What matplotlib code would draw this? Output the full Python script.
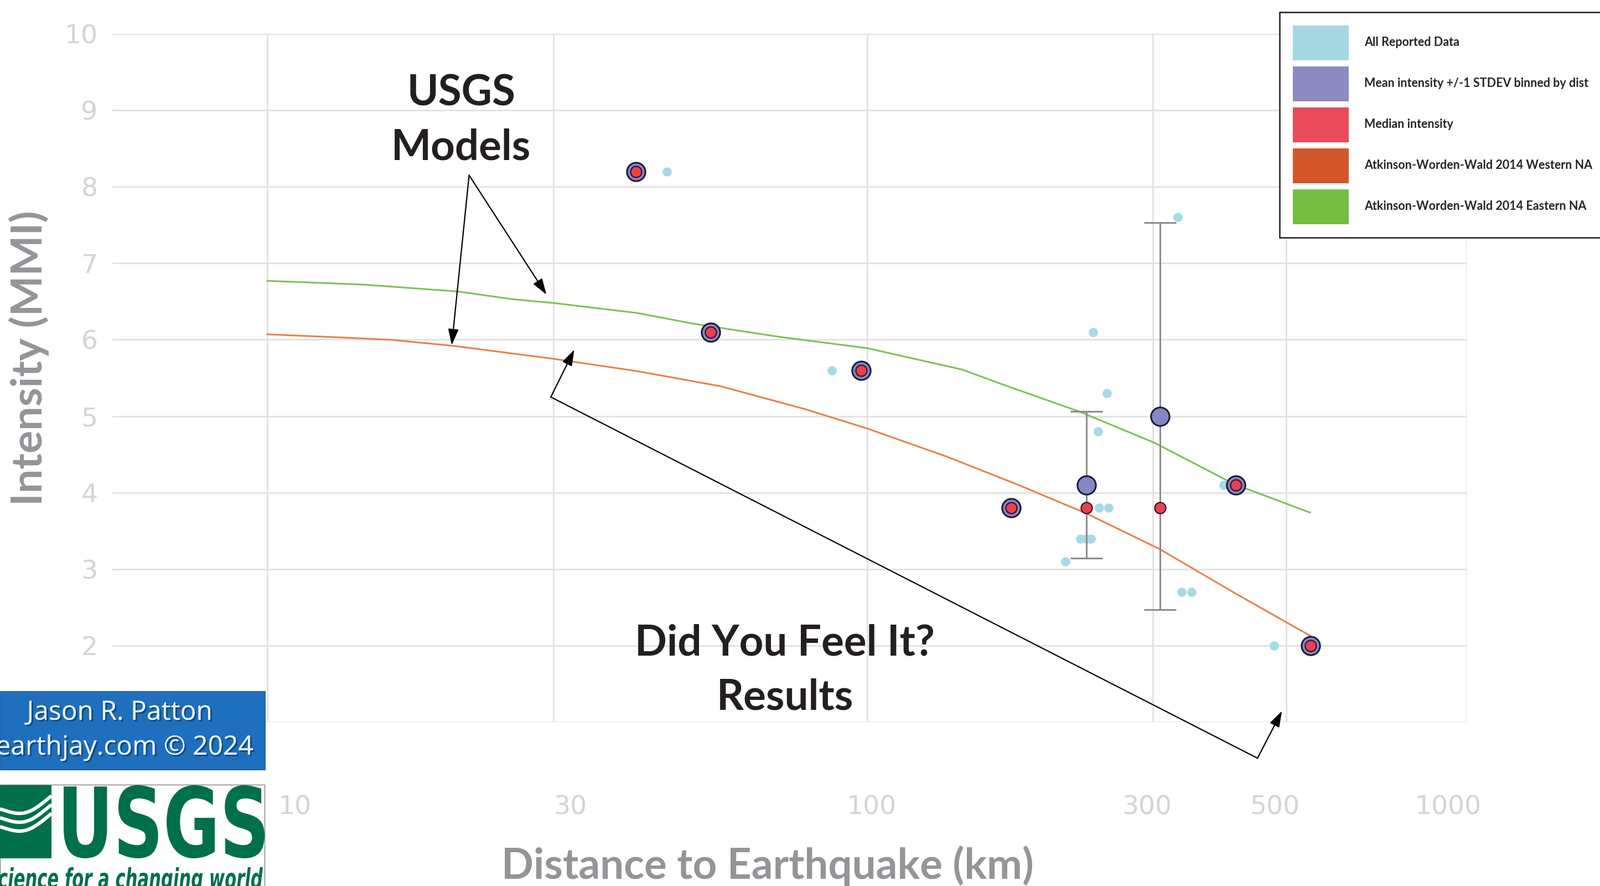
import numpy as np
import matplotlib
matplotlib.use('Agg')
import matplotlib.pyplot as plt
from matplotlib.patches import Rectangle, Patch, PathPatch
from matplotlib.textpath import TextPath
from matplotlib.font_manager import FontProperties
from matplotlib.transforms import Affine2D, blended_transform_factory
from matplotlib.ticker import NullLocator
import matplotlib.patheffects as pe

# ---------------- data ----------------
xtick_vals = [10, 30, 100, 300, 500, 1000]
xtick_labels = ['10', '30', '100', '300', '500', '1000']
ytick_vals = [1, 2, 3, 4, 5, 6, 7, 8, 9, 10]
ytick_labels = ['', '2', '3', '4', '5', '6', '7', '8', '9', '10']

# Atkinson-Worden-Wald 2014 model curves
eastern_dist = [10, 14.5, 20.8, 25.6, 30, 41.3, 51.3, 71, 100, 144, 169, 226, 302, 410, 548]
eastern_mmi = [6.77, 6.72, 6.63, 6.53, 6.48, 6.35, 6.21, 6.04, 5.89, 5.61, 5.41, 5.06, 4.65, 4.11, 3.74]
western_dist = [10, 13.2, 16, 20.4, 30, 41.3, 57.1, 79, 100, 136, 179, 203, 232, 308, 412, 548]
western_mmi = [6.07, 6.03, 6.00, 5.92, 5.75, 5.59, 5.39, 5.09, 4.84, 4.47, 4.10, 3.92, 3.73, 3.26, 2.68, 2.13]

# All reported DYFI data
all_dist = [41.2, 46.4, 54.8, 87.3, 97.8, 174, 214, 227, 232, 236, 238, 243, 244,
            251, 253, 308, 330, 335, 348, 393, 412, 477, 549]
all_mmi = [8.2, 8.2, 6.1, 5.6, 5.6, 3.8, 3.1, 3.4, 3.4, 3.4, 6.1, 4.8, 3.8,
           5.3, 3.8, 3.8, 7.6, 2.7, 2.7, 4.1, 4.1, 2.0, 2.0]

# Binned statistics
bin_dist = [41.2, 54.8, 97.8, 174, 232, 308, 412, 549]
bin_mean = [8.2, 6.1, 5.6, 3.8, 4.1, 5.0, 4.1, 2.0]
bin_std = [0.0, 0.0, 0.0, 0.0, 0.96, 2.53, 0.0, 0.0]
bin_median = [8.2, 6.1, 5.6, 3.8, 3.8, 3.8, 4.1, 2.0]

legend_labels = ['All Reported Data',
                 'Mean intensity +/-1 STDEV binned by dist',
                 'Median intensity',
                 'Atkinson-Worden-Wald 2014 Western NA',
                 'Atkinson-Worden-Wald 2014 Eastern NA']
legend_colors = ['#a5d8e3', '#8b8bc1', '#e84c58', '#d2572a', '#76bd43']

# ---------------- figure ----------------
W, H, DPI = 2891, 1600, 100
fig = plt.figure(figsize=(W / DPI, H / DPI), dpi=DPI)
fig.patch.set_facecolor('white')


def fx(px):
    return px / W


def fy(py):
    return 1 - py / H


ax = fig.add_axes([fx(203), fy(1304), fx(2650) - fx(203), fy(61) - fy(1304)])
ax.set_xscale('log')
ax.set_xlim(10 ** 0.7415, 1000)
ax.set_ylim(1, 10)
for s in ax.spines.values():
    s.set_visible(False)
ax.set_xticks(xtick_vals)
ax.set_xticklabels([])
ax.xaxis.set_minor_locator(NullLocator())
ax.set_yticks(ytick_vals)
ax.set_yticklabels(ytick_labels)
ax.tick_params(length=0)
ax.tick_params(axis='y', labelsize=34, labelcolor='#d4d4d4', pad=19)
for t in ax.get_yticklabels():
    t.set_family('DejaVu Sans')
ax.grid(True, color='#e3e3e3', lw=2.2)
ax.set_axisbelow(True)

# model curves
ax.plot(eastern_dist, eastern_mmi, color='#7cc255', lw=2.2, zorder=3)
ax.plot(western_dist, western_mmi, color='#e8804a', lw=2.2, zorder=3)

# all data
ax.plot(all_dist, all_mmi, 'o', ms=12, color='#a6dae6', mec='none', zorder=4)

# error bars (only where std > 0)
bd = np.array(bin_dist)
bm = np.array(bin_mean)
bs = np.array(bin_std)
msk = bs > 0
ax.errorbar(bd[msk], bm[msk], yerr=bs[msk], fmt='none', ecolor='#8c8c8c',
            elinewidth=2.2, capsize=21, capthick=2.2, zorder=5)
ax.plot(bin_dist, bin_mean, 'o', ms=24, mfc='#8587c4', mec='#1b1b3a', mew=2.2, zorder=6)
ax.plot(bin_dist, bin_median, 'o', ms=14.5, mfc='#e8414f', mec='#3a1020', mew=1.6, zorder=7)

# annotations
ann_font = dict(family='Lato', fontweight='bold', fontsize=55, color='#231f20')
ax.text(21.05, 9.225, 'USGS', ha='center', va='center', **ann_font)
ax.text(21.05, 8.515, 'Models', ha='center', va='center', **ann_font)
ax.text(73, 2.035, 'Did You Feel It?', ha='center', va='center', **ann_font)
ax.text(73, 1.325, 'Results', ha='center', va='center', **ann_font)

arw = dict(arrowstyle='-|>,head_length=0.55,head_width=0.18', color='black', lw=1.6,
           mutation_scale=32, shrinkA=0, shrinkB=0)
ax.annotate('', xy=(20.3, 5.93), xytext=(21.7, 8.15), arrowprops=arw,
            annotation_clip=False)
ax.annotate('', xy=(29.2, 6.59), xytext=(21.7, 8.15), arrowprops=arw,
            annotation_clip=False)
ax.plot([29.7, 448], [5.25, 0.528], color='black', lw=1.6, clip_on=False, zorder=8)
ax.annotate('', xy=(32.5, 5.87), xytext=(29.7, 5.25), arrowprops=arw,
            annotation_clip=False)
ax.annotate('', xy=(492, 1.145), xytext=(448, 0.528), arrowprops=arw,
            annotation_clip=False)

# legend
handles = [Patch(facecolor=c, edgecolor='none') for c in legend_colors]
leg = ax.legend(handles, legend_labels, loc='upper left',
                bbox_to_anchor=(fx(2312), fy(22)), bbox_transform=fig.transFigure,
                borderaxespad=0, frameon=True, fancybox=False, framealpha=1,
                edgecolor='#1a1a1a',
                prop=FontProperties(family='Lato', weight='bold', size=15.5),
                handlelength=4.7, handleheight=4.13, labelspacing=0.51,
                handletextpad=1.29, borderpad=1.1)
leg.get_frame().set_linewidth(1.8)
for t in leg.get_texts():
    t.set_color('#262626')

# x tick labels (slightly offset label scale, as in the reference)
ax_lab = fig.add_axes([fx(533), fy(1456), fx(2617) - fx(533), 0.001])
ax_lab.set_xscale('log')
ax_lab.set_xlim(10, 1000)
ax_lab.axis('off')
tr = blended_transform_factory(ax_lab.transData, fig.transFigure)
for v, lab in zip(xtick_vals, xtick_labels):
    ax_lab.text(v, fy(1458), lab, transform=tr, ha='center', va='center',
                fontsize=34, color='#d4d4d4', family='DejaVu Sans')

# axis titles
fig.text(fx(52), fy(647), 'Intensity (MMI)', rotation=90, ha='center', va='center',
         fontsize=55.5, fontweight='bold', family='Lato', color='#939598')
fig.text(fx(1387), fy(1563), 'Distance to Earthquake (km)', ha='center', va='center',
         fontsize=55, fontweight='bold', family='Lato', color='#939598')

# ---------------- overlay (credit + logo) ----------------
ov = fig.add_axes([0, 0, 1, 1])
ov.set_xlim(0, W)
ov.set_ylim(H, 0)
ov.axis('off')
ov.patch.set_alpha(0)

ov.add_patch(Rectangle((0, 1249), 479, 141, fc='#1e6fbd', ec='#2f5fa8', lw=1.5))
shadow = [pe.withSimplePatchShadow(offset=(2, -2), shadow_rgbFace='#0b2a4a', alpha=0.6),
          pe.Normal()]
ov.text(216, 1287, 'Jason R. Patton', ha='center', va='center', fontsize=34.5,
        family='Open Sans', color='#e6f2fb', path_effects=shadow)
ov.text(457, 1350, 'earthjay.com \u00a9 2024', ha='right', va='center', fontsize=34.5,
        family='Open Sans', color='#e6f2fb', path_effects=shadow)

green = '#00704a'
ov.add_patch(Rectangle((0, 1417), 478, 190, fc='white', ec='#7f7f7f', lw=1.0))
# wave block
ov.add_patch(Rectangle((0, 1418), 93, 132, fc=green, ec='none'))
wx = np.linspace(0, 93, 60)
for off in [0, 16, 32]:
    wy = 1465 + off + 14 * np.sin((wx / 93) * np.pi * 1.2 - 0.3) - wx * 0.25
    ov.plot(wx, wy, color='white', lw=4.5, solid_capstyle='butt')

# "USGS" word
fp = FontProperties(family='DejaVu Sans', weight='bold')
tp = TextPath((0, 0), 'USGS', size=100, prop=fp)
bb = tp.get_extents()
trf = Affine2D().translate(-bb.x0, -bb.y0).scale(363 / bb.width, -132 / bb.height).translate(115, 1550)
ov.add_patch(PathPatch(trf.transform_path(tp), fc=green, ec='none'))

# tagline
fp2 = FontProperties(family='DejaVu Sans', weight='bold', style='italic')
tp2 = TextPath((0, 0), 'science for a changing world', size=100, prop=fp2)
bb2 = tp2.get_extents()
trf2 = Affine2D().translate(-bb2.x0, 0).scale(497 / bb2.width, -0.5).translate(-22, 1604)
ov.add_patch(PathPatch(trf2.transform_path(tp2), fc=green, ec='none'))

fig.savefig('out.png', dpi=DPI)
